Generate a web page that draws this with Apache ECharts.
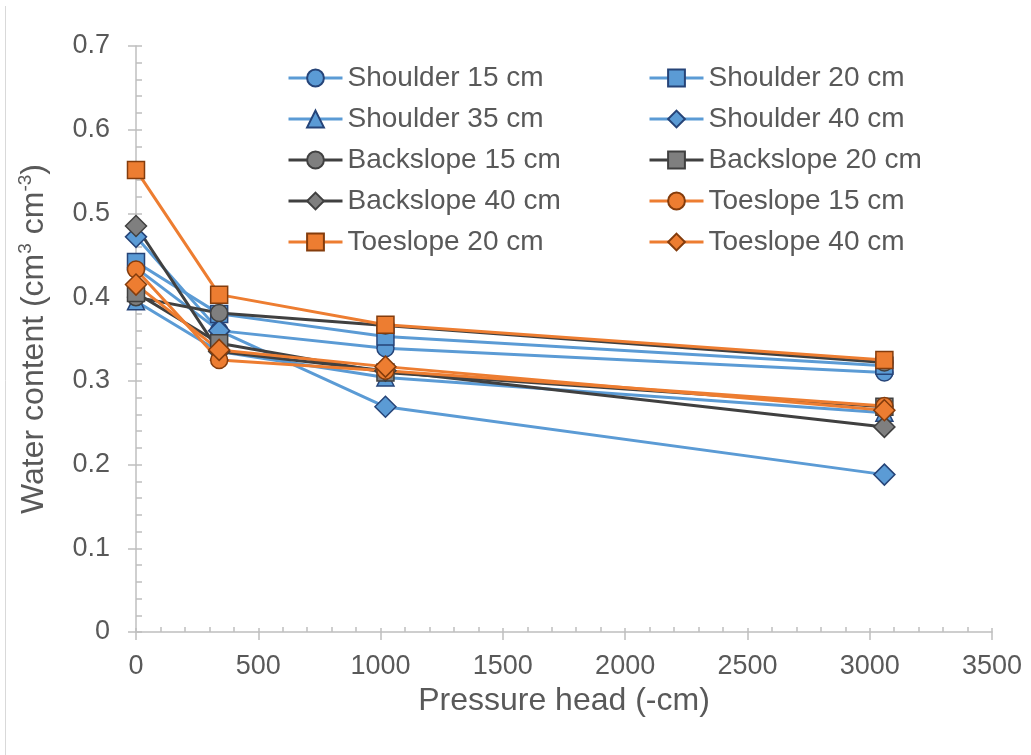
<!DOCTYPE html>
<html>
<head>
<meta charset="utf-8">
<script src="https://cdn.jsdelivr.net/npm/echarts@6/dist/echarts.min.js"></script>
<style>
html,body{margin:0;padding:0;background:#fff;}
#chart{width:1031px;height:755px;}
</style>
</head>
<body>
<div id="chart"></div>
<script>
var pressureHead = [0, 340, 1020, 3060];
var seriesNames = ['Shoulder 15 cm','Shoulder 20 cm','Shoulder 35 cm','Shoulder 40 cm','Backslope 15 cm','Backslope 20 cm','Backslope 40 cm','Toeslope 15 cm','Toeslope 20 cm','Toeslope 40 cm'];
var shoulder15 = [0.435, 0.360, 0.339, 0.310];
var shoulder20 = [0.442, 0.380, 0.353, 0.318];
var shoulder35 = [0.395, 0.335, 0.304, 0.262];
var shoulder40 = [0.472, 0.360, 0.269, 0.188];
var backslope15 = [0.400, 0.381, 0.366, 0.322];
var backslope20 = [0.405, 0.345, 0.310, 0.269];
var backslope40 = [0.485, 0.335, 0.312, 0.245];
var toeslope15 = [0.433, 0.325, 0.312, 0.270];
var toeslope20 = [0.552, 0.403, 0.367, 0.325];
var toeslope40 = [0.415, 0.337, 0.317, 0.265];
var xTicks = [0, 500, 1000, 1500, 2000, 2500, 3000, 3500];
var yTicks = [0, 0.1, 0.2, 0.3, 0.4, 0.5, 0.6, 0.7];

var values = [shoulder15, shoulder20, shoulder35, shoulder40, backslope15, backslope20, backslope40, toeslope15, toeslope20, toeslope40];
var symbols = ['circle','rect','triangle','diamond','circle','rect','diamond','circle','rect','diamond'];
var groups = ['s','s','s','s','b','b','b','t','t','t'];
var style = {
  s: {line:'#5B9BD5', fill:'#5B9BD5', border:'#264478'},
  b: {line:'#404040', fill:'#7F7F7F', border:'#404040'},
  t: {line:'#ED7D31', fill:'#ED7D31', border:'#843C0C'}
};
function pairs(arr){ return arr.map(function(v,i){ return [pressureHead[i], v]; }); }

var series = seriesNames.map(function(name, k){
  var st = style[groups[k]];
  var sym = symbols[k];
  return {
    name: name, type: 'line', xAxisIndex: 0, yAxisIndex: 0,
    data: pairs(values[k]),
    symbol: sym,
    symbolSize: sym === 'diamond' ? 21 : 17,
    showAllSymbol: true,
    lineStyle: {color: st.line, width: 3},
    itemStyle: {color: st.fill, borderColor: st.border, borderWidth: 1.5},
    emphasis: {disabled: true},
    animation: false
  };
});

var font = 'Liberation Sans, Arial, sans-serif';
var legendCommon = {
  orient: 'vertical', top: 59, itemWidth: 54, itemHeight: 21, itemGap: 13,
  lineStyle: {width: 3},
  textStyle: {fontFamily: font, fontSize: 28, color: '#595959', lineHeight: 28},
  selectedMode: false
};
var chart = echarts.init(document.getElementById('chart'), null, {renderer: 'canvas'});
chart.setOption({
  backgroundColor: '#ffffff',
  animation: false,
  grid: {left: 136, right: 39, top: 46, bottom: 123},
  legend: [
    Object.assign({left: 282, data: ['Shoulder 15 cm','Shoulder 35 cm','Backslope 15 cm','Backslope 40 cm','Toeslope 20 cm']}, legendCommon),
    Object.assign({left: 643, data: ['Shoulder 20 cm','Shoulder 40 cm','Backslope 20 cm','Toeslope 15 cm','Toeslope 40 cm']}, legendCommon)
  ],
  xAxis: [{
    type: 'value', position: 'bottom', min: xTicks[0], max: xTicks[xTicks.length-1], interval: 500,
    name: 'Pressure head (-cm)', nameLocation: 'middle', nameGap: 44,
    nameTextStyle: {fontFamily: font, fontSize: 32, color: '#595959'},
    axisLine: {show: true, lineStyle: {color: '#BFBFBF', width: 1.5}},
    axisTick: {show: true, inside: false, length: 8, lineStyle: {color: '#BFBFBF', width: 1.5}},
    axisLabel: {fontFamily: font, fontSize: 27, color: '#595959', margin: 21,
      formatter: function(v){ return String(v); }},
    splitLine: {show: false}
  }, {
    type: 'value', position: 'bottom', min: xTicks[0], max: xTicks[xTicks.length-1], interval: 500,
    axisLine: {show: false},
    axisTick: {show: true, inside: true, length: 4, lineStyle: {color: '#BFBFBF', width: 1.5}},
    minorTick: {show: true, splitNumber: 5, length: 5, lineStyle: {color: '#BFBFBF', width: 1.5}},
    axisLabel: {show: false}, splitLine: {show: false}
  }],
  yAxis: [{
    type: 'value', position: 'left', min: yTicks[0], max: yTicks[yTicks.length-1], interval: 0.1,
    name: 'Water content (cm{sup|3} cm{sup|-3})', nameLocation: 'middle', nameGap: 84, nameRotate: 90,
    nameTextStyle: {fontFamily: font, fontSize: 32, color: '#595959', lineHeight: 36,
      rich: {sup: {fontFamily: font, fontSize: 19, color: '#595959', verticalAlign: 'top', lineHeight: 36}}},
    axisLine: {show: true, lineStyle: {color: '#BFBFBF', width: 1.5}},
    axisTick: {show: true, inside: false, length: 8, lineStyle: {color: '#BFBFBF', width: 1.5}},
    axisLabel: {fontFamily: font, fontSize: 27, color: '#595959', margin: 26,
      formatter: function(v){ return String(Math.round(v*10)/10); }},
    splitLine: {show: false}
  }, {
    type: 'value', position: 'left', min: yTicks[0], max: yTicks[yTicks.length-1], interval: 0.1,
    axisLine: {show: false},
    axisTick: {show: true, inside: true, length: 6, lineStyle: {color: '#BFBFBF', width: 1.5}},
    minorTick: {show: true, splitNumber: 5, length: 6, lineStyle: {color: '#BFBFBF', width: 1.5}},
    axisLabel: {show: false}, splitLine: {show: false}
  }],
  graphic: [{
    type: 'line', shape: {x1: 5.5, y1: 6, x2: 5.5, y2: 755}, style: {stroke: '#D9D9D9', lineWidth: 1}, silent: true
  }],
  series: series
});
</script>
</body>
</html>
